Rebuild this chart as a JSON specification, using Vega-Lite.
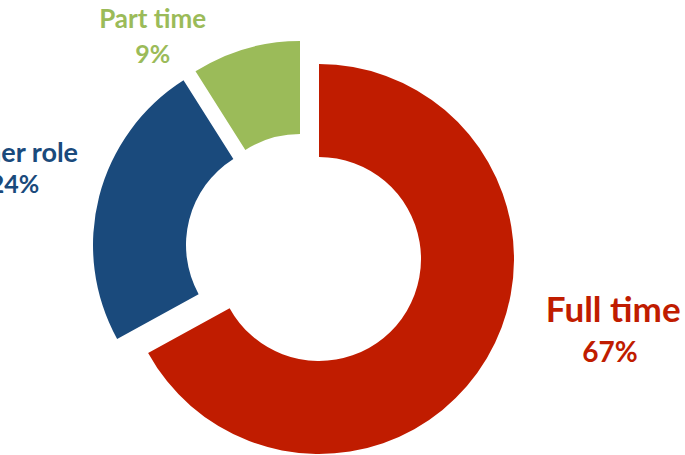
{
  "$schema": "https://vega.github.io/schema/vega-lite/v6.json",
  "width": 608,
  "height": 410,
  "autosize": {"type": "none"},
  "padding": {"left": 0, "top": 45, "right": 77, "bottom": 0},
  "background": "white",
  "config": {"view": {"stroke": null}},
  "data": {
    "values": [
      {"category": "Full time", "share": 0.67},
      {"category": "Other role", "share": 0.24},
      {"category": "Part time", "share": 0.09}
    ]
  },
  "transform": [
    {"stack": "share", "groupby": [], "as": ["s0", "s1"], "sort": [{"field": "category", "order": "ascending"}]},
    {"calculate": "(datum.s0 + datum.s1) / 2", "as": "mid"}
  ],
  "encoding": {
    "color": {
      "field": "category",
      "type": "nominal",
      "scale": {"domain": ["Full time", "Other role", "Part time"], "range": ["#C01C00", "#1A4A7C", "#9BBB59"]},
      "legend": null
    }
  },
  "layer": [
    {
      "transform": [{"filter": "datum.category === 'Full time'"}],
      "mark": {"type": "arc", "outerRadius": 195, "innerRadius": 102, "xOffset": 15, "yOffset": 9},
      "encoding": {
        "theta": {"field": "s0", "type": "quantitative", "scale": {"domain": [0, 1]}},
        "theta2": {"field": "s1"}
      }
    },
    {
      "transform": [{"filter": "datum.category === 'Other role'"}],
      "mark": {"type": "arc", "outerRadius": 195, "innerRadius": 102, "xOffset": -16, "yOffset": -5},
      "encoding": {
        "theta": {"field": "s0", "type": "quantitative", "scale": {"domain": [0, 1]}},
        "theta2": {"field": "s1"}
      }
    },
    {
      "transform": [{"filter": "datum.category === 'Part time'"}],
      "mark": {"type": "arc", "outerRadius": 195, "innerRadius": 102, "xOffset": -4, "yOffset": -14},
      "encoding": {
        "theta": {"field": "s0", "type": "quantitative", "scale": {"domain": [0, 1]}},
        "theta2": {"field": "s1"}
      }
    },
    {
      "transform": [{"filter": "datum.category === 'Full time'"}],
      "mark": {"type": "text", "radius": 300, "dx": 51, "dy": -80.7, "font": "Lato", "fontWeight": "bold", "fontSize": 35, "align": "center", "baseline": "alphabetic"},
      "encoding": {
        "theta": {"field": "mid", "type": "quantitative", "scale": {"domain": [0, 1]}},
        "text": {"field": "category"}
      }
    },
    {
      "transform": [{"filter": "datum.category === 'Full time'"}],
      "mark": {"type": "text", "radius": 300, "dx": 47.7, "dy": -40.7, "font": "Lato", "fontWeight": "bold", "fontSize": 28, "align": "center", "baseline": "alphabetic"},
      "encoding": {
        "theta": {"field": "mid", "type": "quantitative", "scale": {"domain": [0, 1]}},
        "text": {"field": "share", "format": ".0%"}
      }
    },
    {
      "transform": [{"filter": "datum.category === 'Other role'"}],
      "mark": {"type": "text", "radius": 290, "dx": -7, "dy": -15.8, "font": "Lato", "fontWeight": "bold", "fontSize": 27, "align": "center", "baseline": "alphabetic"},
      "encoding": {
        "theta": {"field": "mid", "type": "quantitative", "scale": {"domain": [0, 1]}},
        "text": {"field": "category"}
      }
    },
    {
      "transform": [{"filter": "datum.category === 'Other role'"}],
      "mark": {"type": "text", "radius": 290, "dx": -8.5, "dy": 15.2, "font": "Lato", "fontWeight": "bold", "fontSize": 25, "align": "center", "baseline": "alphabetic"},
      "encoding": {
        "theta": {"field": "mid", "type": "quantitative", "scale": {"domain": [0, 1]}},
        "text": {"field": "share", "format": ".0%"}
      }
    },
    {
      "transform": [{"filter": "datum.category === 'Part time'"}],
      "mark": {"type": "text", "radius": 245, "dx": -83, "dy": 13.2, "font": "Lato", "fontWeight": "bold", "fontSize": 26, "align": "center", "baseline": "alphabetic"},
      "encoding": {
        "theta": {"field": "mid", "type": "quantitative", "scale": {"domain": [0, 1]}},
        "text": {"field": "category"}
      }
    },
    {
      "transform": [{"filter": "datum.category === 'Part time'"}],
      "mark": {"type": "text", "radius": 245, "dx": -83, "dy": 48.2, "font": "Lato", "fontWeight": "bold", "fontSize": 25, "align": "center", "baseline": "alphabetic"},
      "encoding": {
        "theta": {"field": "mid", "type": "quantitative", "scale": {"domain": [0, 1]}},
        "text": {"field": "share", "format": ".0%"}
      }
    }
  ]
}
